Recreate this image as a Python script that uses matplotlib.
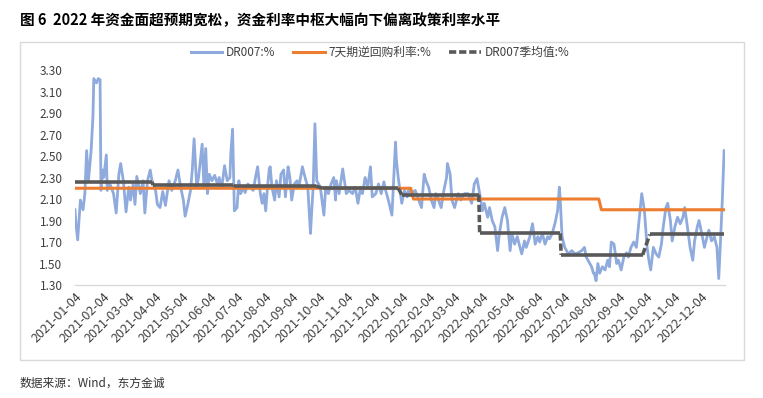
import pandas as pd
import matplotlib.pyplot as plt
from matplotlib.lines import Line2D
from matplotlib.patches import Rectangle

plt.rcParams['font.family'] = ['Noto Sans CJK SC', 'DejaVu Sans']

# DR007 daily fixing, days counted from 2021-01-04
start = pd.Timestamp('2021-01-04')
dr007_days = [0, 1, 3, 6, 9, 11, 13, 15, 18, 20, 21, 24, 26, 28, 29, 31, 32, 35, 36, 39,
              43, 46, 49, 51, 54, 57, 60, 62, 65, 67, 69, 73, 76, 78, 81, 84, 86, 90, 92, 95,
              98, 101, 105, 108, 112, 115, 118, 121, 123, 126, 129, 131, 133, 136, 138, 142, 144, 146, 148, 150,
              153, 156, 159, 161, 164, 167, 170, 173, 174, 176, 178, 181, 183, 185, 188, 190, 193, 196, 199, 202,
              204, 207, 209, 211, 213, 215, 217, 218, 220, 223, 225, 228, 230, 233, 235, 238, 240, 242, 245, 248,
              250, 254, 256, 258, 260, 263, 264, 266, 268, 270, 274, 278, 280, 283, 286, 289, 291, 292, 295, 299,
              303, 306, 310, 313, 316, 319, 321, 324, 327, 330, 332, 336, 339, 342, 345, 347, 350, 354, 356, 358,
              359, 361, 365, 368, 371, 373, 376, 380, 384, 387, 390, 392, 395, 398, 401, 403, 406, 409, 412, 415,
              416, 419, 421, 424, 428, 431, 435, 439, 443, 446, 449, 452, 455, 457, 461, 463, 466, 469, 472, 474,
              477, 480, 483, 486, 488, 491, 494, 497, 499, 502, 504, 508, 511, 514, 517, 519, 522, 525, 528, 530,
              533, 536, 539, 541, 542, 544, 547, 551, 555, 558, 562, 566, 569, 571, 575, 577, 579, 580, 582, 584,
              586, 589, 592, 595, 597, 599, 602, 605, 607, 610, 613, 616, 618, 621, 624, 627, 630, 633, 636, 639,
              641, 643, 646, 649, 652, 655, 657, 660, 662, 665, 667, 670, 673, 676, 679, 681, 684, 687, 690, 692,
              695, 697, 700, 703, 706, 708, 711, 714, 717, 719, 721, 723, 725]
dr007_values = [2.00, 1.87, 1.72, 2.09, 2.00, 2.15, 2.55, 2.27, 2.55, 2.86, 3.22, 3.18, 3.22, 3.21, 2.18, 2.37, 2.30, 2.51, 2.18, 2.24,
                2.15, 1.97, 2.33, 2.43, 2.27, 1.98, 2.21, 2.09, 2.24, 2.05, 2.31, 2.15, 2.27, 1.97, 2.27, 2.37, 2.27, 2.18, 2.05, 2.02,
                2.17, 2.04, 2.27, 2.18, 2.27, 2.37, 2.21, 2.09, 1.94, 2.05, 2.18, 2.37, 2.66, 2.21, 2.30, 2.61, 2.21, 2.57, 2.15, 2.33,
                2.27, 2.32, 2.24, 2.30, 2.21, 2.41, 2.27, 2.30, 2.52, 2.75, 1.99, 2.02, 2.27, 2.15, 2.21, 2.16, 2.24, 2.21, 2.18, 2.32,
                2.40, 2.15, 2.06, 2.15, 1.99, 2.21, 2.38, 2.40, 2.21, 2.09, 2.27, 2.12, 2.33, 2.37, 2.12, 2.40, 2.30, 2.09, 2.24, 2.27,
                2.21, 2.40, 2.33, 2.27, 2.21, 1.78, 1.93, 2.21, 2.80, 2.27, 2.21, 1.95, 2.21, 2.15, 2.24, 2.30, 2.09, 2.27, 2.15, 2.38,
                2.15, 2.18, 2.15, 2.21, 2.06, 2.21, 2.15, 2.30, 2.21, 2.40, 2.12, 2.15, 2.24, 2.15, 2.26, 2.18, 2.09, 1.95, 2.30, 2.63,
                2.46, 2.30, 2.06, 2.18, 2.12, 2.20, 2.15, 2.18, 2.09, 2.02, 2.33, 2.27, 2.21, 2.09, 2.02, 2.15, 2.09, 2.02, 2.18, 2.30,
                2.43, 2.33, 2.09, 2.02, 2.15, 2.09, 2.15, 2.15, 2.06, 2.24, 2.29, 2.15, 1.99, 2.06, 1.93, 2.02, 1.90, 1.84, 1.62, 1.78,
                1.93, 2.02, 1.90, 1.62, 1.78, 1.68, 1.75, 1.65, 1.59, 1.71, 1.65, 1.75, 1.87, 1.68, 1.75, 1.70, 1.78, 1.68, 1.75, 1.73,
                1.78, 1.87, 1.99, 2.21, 2.09, 1.75, 1.65, 1.59, 1.62, 1.59, 1.60, 1.62, 1.65, 1.56, 1.50, 1.47, 1.41, 1.41, 1.34, 1.50,
                1.41, 1.47, 1.44, 1.53, 1.47, 1.70, 1.68, 1.50, 1.53, 1.44, 1.56, 1.60, 1.56, 1.65, 1.70, 1.65, 1.90, 2.15, 1.99, 1.65,
                1.53, 1.44, 1.65, 1.59, 1.56, 1.68, 1.84, 2.02, 2.06, 1.90, 1.71, 1.84, 1.93, 1.87, 1.93, 2.02, 1.84, 1.65, 1.53, 1.71,
                1.84, 1.90, 1.78, 1.65, 1.75, 1.81, 1.71, 1.75, 1.65, 1.36, 1.71, 2.09, 2.55]

# 7-day reverse repo rate: each level with its first and last day
repo_start = ['2021-01-04', '2022-01-17', '2022-08-15']
repo_end = ['2022-01-14', '2022-08-12', '2022-12-30']
repo_rate = [2.20, 2.10, 2.00]

# DR007 quarterly mean
q_start = ['2021-01-04', '2021-04-01', '2021-07-01', '2021-10-08',
           '2022-01-04', '2022-04-01', '2022-07-01', '2022-10-08']
q_end = ['2021-03-31', '2021-06-30', '2021-09-30', '2021-12-31',
         '2022-03-31', '2022-06-30', '2022-09-30', '2022-12-30']
q_mean = [2.26, 2.23, 2.22, 2.20, 2.14, 1.78, 1.58, 1.77]

c_blue = '#8FAADC'
c_orange = '#ED7D31'
c_grey = '#595959'
c_text = '#404040'

fig = plt.figure(figsize=(7.63, 3.98), dpi=100)
ax = fig.add_axes([0.0983, 0.2839, 0.8519, 0.5402])

dates = start + pd.to_timedelta(dr007_days, unit='D')
ax.plot(dates, dr007_values, color=c_blue, lw=2.0, solid_joinstyle='round', zorder=2)

# policy rate as a stepped line
rx, ry = [], []
for s, e, r in zip(repo_start, repo_end, repo_rate):
    rx += [pd.Timestamp(s), pd.Timestamp(e)]
    ry += [r, r]
ax.plot(rx, ry, color=c_orange, lw=2.2, zorder=3)

# quarterly mean: flat parts solid, jumps dashed
for i in range(len(q_mean)):
    ax.plot([pd.Timestamp(q_start[i]), pd.Timestamp(q_end[i])], [q_mean[i], q_mean[i]],
            color=c_grey, lw=2.6, solid_capstyle='butt', zorder=4)
    if i > 0:
        ax.plot([pd.Timestamp(q_end[i - 1]), pd.Timestamp(q_start[i])], [q_mean[i - 1], q_mean[i]],
                color=c_grey, lw=2.6, dashes=(2.0, 0.8), zorder=4)

ax.set_ylim(1.30, 3.30)
ax.set_yticks([1.30 + 0.2 * k for k in range(11)])
ax.yaxis.set_major_formatter(plt.FormatStrFormatter('%.2f'))
ax.set_xlim(pd.Timestamp('2021-01-04'), pd.Timestamp('2022-12-31'))

ticks = pd.date_range('2021-01-01', '2022-12-01', freq='MS') + pd.Timedelta(days=3)
ax.set_xticks(ticks)
ax.set_xticklabels([t.strftime('%Y-%m-%d') for t in ticks], rotation=45,
                   ha='right', rotation_mode='anchor', fontsize=9, color=c_text)
ax.tick_params(axis='x', length=0, pad=4)
ax.tick_params(axis='y', length=0, pad=9, labelsize=8.5, labelcolor=c_text)

for side in ['top', 'right', 'left']:
    ax.spines[side].set_visible(False)
ax.spines['bottom'].set_color('#D9D9D9')
ax.spines['bottom'].set_linewidth(1)

handles = [Line2D([], [], color=c_blue, lw=2.2),
           Line2D([], [], color=c_orange, lw=2.2),
           Line2D([], [], color=c_grey, lw=2.6, dashes=(2.0, 0.8))]
labels = ['DR007:%', '7天期逆回购利率:%', 'DR007季均值:%']
fig.legend(handles, labels, loc='center', bbox_to_anchor=(0.498, 0.869), ncol=3,
           frameon=False, fontsize=8.5, handlelength=2.7, handletextpad=0.3,
           columnspacing=1.5, labelcolor=c_text)

# light border around the chart area
fig.patches.append(Rectangle((20 / 763, 1 - 360 / 398), 724 / 763, 318 / 398,
                             transform=fig.transFigure, fill=False,
                             edgecolor='#D9D9D9', lw=1))

fig.text(20 / 763, 0.95, '图 6  2022 年资金面超预期宽松，资金利率中枢大幅向下偏离政策利率水平',
         fontsize=10.5, fontweight='bold', va='center', ha='left')
fig.text(20 / 763, 1 - 383 / 398, '数据来源：Wind，东方金诚', fontsize=8.5,
         va='center', ha='left', color='#333333')

fig.savefig('out.png', dpi=100)
